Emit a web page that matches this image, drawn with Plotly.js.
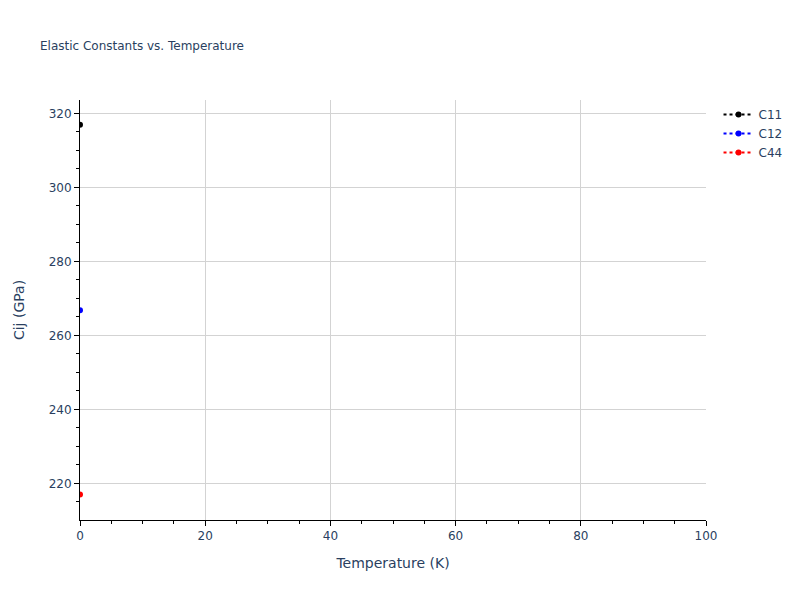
<!DOCTYPE html>
<html>
<head>
<meta charset="utf-8">
<script src="https://cdn.plot.ly/plotly-3.0.1.min.js"></script>
<style>body{margin:0;} #plot{width:800px;height:600px;}</style>
</head>
<body>
<div id="plot"></div>
<script>
// Temperatures and elastic constants (GPa)
var temperature = [0];
var c11 = [316.9];
var c12 = [266.8];
var c44 = [217.0];

function series(name, y, color) {
  return {
    x: temperature,
    y: y,
    name: name,
    mode: 'lines+markers',
    type: 'scatter',
    line: {color: color, dash: 'dot'},
    marker: {color: color, size: 6}
  };
}

var data = [
  series('C11', c11, 'black'),
  series('C12', c12, 'blue'),
  series('C44', c44, 'red')
];

var axisStyle = {
  showline: true,
  linecolor: 'black',
  linewidth: 1,
  ticks: 'outside',
  tickcolor: 'black',
  gridcolor: '#d3d3d3',
  zeroline: false,
  minor: {ticks: 'outside', tickcolor: 'black', showgrid: false}
};

var layout = {
  font: {family: 'Verdana, "DejaVu Sans", sans-serif', color: '#2a3f5f'},
  title: {text: 'Elastic Constants vs. Temperature', font: {size: 12}, x: 0.05},
  plot_bgcolor: 'white',
  xaxis: Object.assign({}, axisStyle, {
    title: {text: 'Temperature (K)', standoff: 15},
    range: [0, 100],
    dtick: 20
  }),
  yaxis: Object.assign({}, axisStyle, {
    title: {text: 'Cij (GPa)', standoff: 20},
    range: [210.1, 323.6],
    dtick: 20
  })
};

Plotly.newPlot('plot', data, layout, {displayModeBar: false});
</script>
</body>
</html>
